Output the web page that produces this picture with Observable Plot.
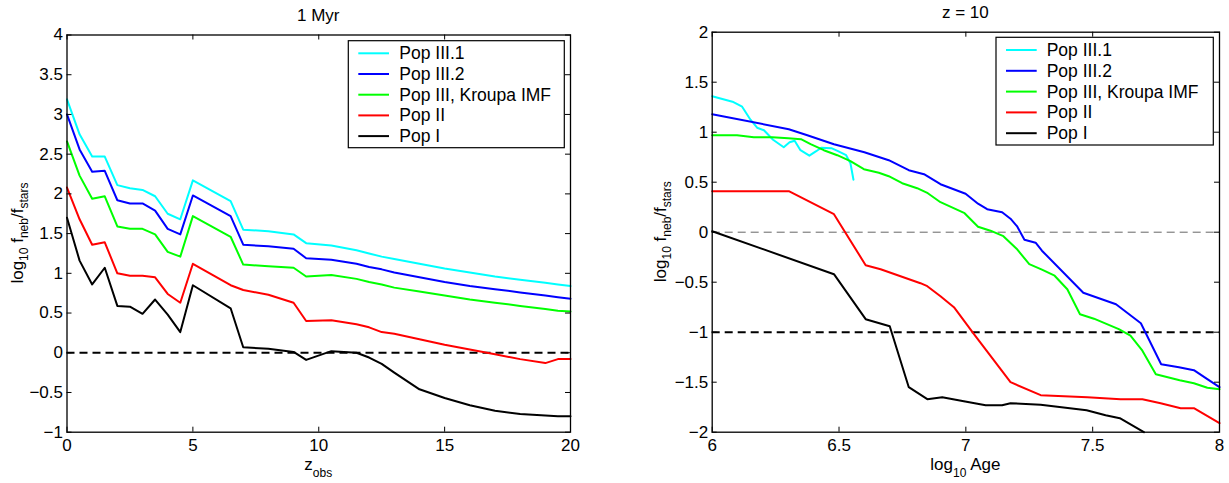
<!DOCTYPE html>
<html><head><meta charset="utf-8">
<script src="https://cdn.jsdelivr.net/npm/d3@7"></script>
<script src="https://cdn.jsdelivr.net/npm/@observablehq/plot@0.6"></script>
<style>
body{margin:0;background:#fff;}
#wrap{position:relative;width:1229px;height:483px;overflow:hidden;background:#fff;}
#wrap svg{position:absolute;top:0;}
</style></head><body><div id="wrap"></div>
<script>
const FONT = "Liberation Sans, Arial, Helvetica, sans-serif";
const seriesNames = ["Pop III.1", "Pop III.2", "Pop III, Kroupa IMF", "Pop II", "Pop I"];
const seriesColors = ["#00ffff", "#0000ff", "#00ff00", "#ff0000", "#000000"];

// ---- Left panel: 1 Myr, x = z_obs ----
const leftTitle = "1 Myr";
const leftXTicks = [0, 5, 10, 15, 20];
const leftYTicks = [-1, -0.5, 0, 0.5, 1, 1.5, 2, 2.5, 3, 3.5, 4];
const leftZ = [0,0.5,1,1.5,2,2.5,3,3.5,4,4.5,5,6.5,7,8,9,9.5,10.5,11.5,12,12.5,13,14,15,16,17,18,19,19.5,20];
const leftPop31 = [3.19,2.75,2.47,2.47,2.11,2.07,2.05,1.97,1.75,1.68,2.17,1.91,1.55,1.53,1.49,1.38,1.35,1.29,1.25,1.21,1.18,1.12,1.06,1.01,0.96,0.92,0.88,0.86,0.84];
const leftPop32 = [3.00,2.56,2.28,2.29,1.92,1.88,1.88,1.79,1.56,1.49,1.98,1.72,1.36,1.34,1.31,1.19,1.17,1.12,1.08,1.05,1.01,0.95,0.89,0.84,0.80,0.76,0.72,0.70,0.68];
const leftKroupa = [2.66,2.23,1.94,1.97,1.59,1.56,1.56,1.49,1.27,1.21,1.72,1.46,1.11,1.09,1.07,0.96,0.98,0.93,0.89,0.86,0.82,0.77,0.72,0.67,0.63,0.59,0.55,0.53,0.52];
const leftPop2 = [2.08,1.68,1.36,1.39,1.00,0.97,0.97,0.95,0.74,0.63,1.12,0.85,0.79,0.73,0.63,0.40,0.41,0.36,0.32,0.26,0.24,0.17,0.10,0.04,-0.02,-0.08,-0.13,-0.08,-0.08];
const leftPop1 = [1.70,1.16,0.86,1.07,0.59,0.58,0.49,0.67,0.48,0.26,0.85,0.56,0.07,0.05,0.01,-0.09,0.02,0.00,-0.06,-0.14,-0.25,-0.46,-0.57,-0.66,-0.73,-0.77,-0.79,-0.80,-0.80];
const leftRefLines = [0];

// ---- Right panel: z = 10, x = log10 Age ----
const rightTitle = "z = 10";
const rightXTicks = [6, 6.5, 7, 7.5, 8];
const rightYTicks = [-2, -1.5, -1, -0.5, 0, 0.5, 1, 1.5, 2];
const rightAgePop31 = [6.0,6.08,6.118,6.151,6.177,6.204,6.24,6.282,6.305,6.325,6.348,6.383,6.41,6.43,6.47,6.496,6.516,6.528,6.545,6.557];
const rightPop31 = [1.36,1.305,1.255,1.125,1.045,1.02,0.925,0.85,0.90,0.915,0.82,0.765,0.81,0.845,0.84,0.81,0.785,0.77,0.69,0.525];
const rightAgePop32 = [6.0,6.302,6.375,6.48,6.6,6.696,6.775,6.835,6.90,6.999,7.048,7.084,7.143,7.176,7.203,7.231,7.275,7.30,7.463,7.592,7.69,7.77,7.84,7.899,7.952,8.0];
const rightPop32 = [1.18,1.03,0.97,0.88,0.80,0.72,0.62,0.58,0.48,0.385,0.285,0.23,0.20,0.135,0.055,-0.075,-0.105,-0.185,-0.605,-0.72,-0.91,-1.32,-1.35,-1.38,-1.47,-1.55];
const rightAgeKroupa = [6.0,6.098,6.164,6.237,6.30,6.35,6.388,6.44,6.493,6.545,6.598,6.657,6.696,6.749,6.808,6.85,6.90,6.995,7.048,7.097,7.148,7.2,7.25,7.30,7.35,7.40,7.45,7.505,7.603,7.649,7.696,7.749,7.843,7.899,7.952,8.0];
const rightKroupa = [0.97,0.97,0.95,0.95,0.94,0.93,0.88,0.82,0.77,0.71,0.63,0.595,0.56,0.49,0.44,0.39,0.30,0.19,0.055,0.015,-0.04,-0.165,-0.32,-0.375,-0.435,-0.57,-0.82,-0.865,-0.97,-1.035,-1.185,-1.42,-1.48,-1.51,-1.555,-1.57];
const rightAgePop2 = [6.0,6.302,6.48,6.605,6.664,6.821,6.848,6.90,6.953,7.032,7.176,7.295,7.479,7.61,7.696,7.768,7.847,7.899,8.0];
const rightPop2 = [0.41,0.41,0.18,-0.33,-0.37,-0.51,-0.54,-0.64,-0.75,-1.02,-1.50,-1.63,-1.65,-1.67,-1.67,-1.71,-1.76,-1.76,-1.91];
const rightAgePop1 = [6.0,6.48,6.605,6.70,6.775,6.848,6.907,6.992,7.078,7.143,7.176,7.295,7.476,7.551,7.607,7.702];
const rightPop1 = [0.01,-0.42,-0.87,-0.94,-1.55,-1.67,-1.65,-1.69,-1.73,-1.73,-1.71,-1.725,-1.78,-1.83,-1.86,-2.0];
const rightRefThin = [0];
const rightRefThick = [-1];

const fmt = d => (d < 0 ? "\u2212" : "") + Math.abs(d);
const toRows = (xs, ys) => xs.map((x, i) => ({x, y: ys[i]}));

function panel(cfg) {
  const H = 483;
  const innerW = cfg.width - cfg.ml - cfg.mr;
  const innerH = H - cfg.mt - cfg.mb;
  const marks = [];
  cfg.refs.forEach(r => marks.push(Plot.ruleY(r.values, {y: d => d, stroke: r.color, strokeWidth: r.width, strokeDasharray: "8,5"})));
  cfg.series.forEach((s, i) => marks.push(Plot.line(toRows(s.x, s.y), {x: "x", y: "y", stroke: seriesColors[i], strokeWidth: 2})));
  marks.push(
    Plot.tickX(cfg.xTicks, {x: d => d, insetTop: innerH - 5, stroke: "black"}),
    Plot.tickX(cfg.xTicks, {x: d => d, insetBottom: innerH - 5, stroke: "black"}),
    Plot.tickY(cfg.yTicks, {y: d => d, insetRight: innerW - 5, stroke: "black"}),
    Plot.tickY(cfg.yTicks, {y: d => d, insetLeft: innerW - 5, stroke: "black"}),
    Plot.axisX(cfg.xTicks, {anchor: "bottom", tickSize: 0, tickPadding: 7, tickFormat: fmt, label: null, fontSize: 17}),
    Plot.axisY(cfg.yTicks, {anchor: "left", tickSize: 0, tickPadding: 4, tickFormat: fmt, label: null, fontSize: 17}),
    Plot.frame({stroke: "black", strokeWidth: 1.3})
  );
  const svg = Plot.plot({
    width: cfg.width, height: H,
    marginLeft: cfg.ml, marginRight: cfg.mr, marginTop: cfg.mt, marginBottom: cfg.mb,
    x: {domain: cfg.xDomain, label: null},
    y: {domain: cfg.yDomain, label: null},
    style: {fontFamily: FONT, fontSize: "17px", color: "black", background: "transparent", overflow: "visible"},
    marks
  });
  svg.style.left = cfg.left + "px";
  const g = d3.select(svg).append("g").attr("font-family", FONT).attr("fill", "black");
  const cx = cfg.ml + innerW / 2;
  // title
  g.append("text").attr("x", cx).attr("y", cfg.titleY).attr("text-anchor", "middle").attr("font-size", 17).text(cfg.title);
  // x label
  const xl = g.append("text").attr("x", cx).attr("y", 470).attr("text-anchor", "middle").attr("font-size", 17);
  cfg.xLabel.forEach(p => xl.append("tspan").attr("font-size", p.sub ? 12 : 17).attr("dy", p.dy || 0).text(p.t));
  // y label
  const cy = cfg.mt + innerH / 2;
  const yl = g.append("text").attr("transform", `translate(${cfg.yLabelX},${cy}) rotate(-90)`).attr("text-anchor", "middle").attr("font-size", 17);
  [{t: "log"}, {t: "10", sub: 1, dy: 5}, {t: " f", dy: -5}, {t: "neb", sub: 1, dy: 5}, {t: "/f", dy: -5}, {t: "stars", sub: 1, dy: 5}]
    .forEach(p => yl.append("tspan").attr("font-size", p.sub ? 12 : 17).attr("dy", p.dy || 0).text(p.t));
  // legend
  const L = cfg.legend;
  const lg = g.append("g");
  lg.append("rect").attr("x", L.x).attr("y", L.y).attr("width", L.w).attr("height", L.h).attr("fill", "white").attr("stroke", "black").attr("stroke-width", 1.2);
  seriesNames.forEach((name, i) => {
    const ry = L.row0 + i * L.dy;
    lg.append("line").attr("x1", L.lx1).attr("x2", L.lx2).attr("y1", ry).attr("y2", ry).attr("stroke", seriesColors[i]).attr("stroke-width", 2);
    lg.append("text").attr("x", L.tx).attr("y", ry + 6).attr("text-anchor", "start").attr("font-size", 17.5).text(name);
  });
  return svg;
}

const wrap = document.getElementById("wrap");
wrap.appendChild(panel({
  left: 0, width: 614, ml: 66.5, mr: 44, mt: 34.5, mb: 51.3,
  xDomain: [0, 20], yDomain: [-1, 4], xTicks: leftXTicks, yTicks: leftYTicks,
  series: [
    {x: leftZ, y: leftPop31}, {x: leftZ, y: leftPop32}, {x: leftZ, y: leftKroupa},
    {x: leftZ, y: leftPop2}, {x: leftZ, y: leftPop1}
  ],
  refs: [{values: leftRefLines, color: "black", width: 2}],
  title: leftTitle, titleY: 21,
  xLabel: [{t: "z"}, {t: "obs", sub: 1, dy: 7}],
  yLabelX: 23,
  legend: {x: 348.3, y: 40.7, w: 216, h: 107, lx1: 358.3, lx2: 389, tx: 399.3, row0: 53.3, dy: 20.7}
}));
wrap.appendChild(panel({
  left: 614, width: 615, ml: 97.7, mr: 10, mt: 31.7, mb: 51.3,
  xDomain: [6, 8], yDomain: [-2, 2], xTicks: rightXTicks, yTicks: rightYTicks,
  series: [
    {x: rightAgePop31, y: rightPop31}, {x: rightAgePop32, y: rightPop32}, {x: rightAgeKroupa, y: rightKroupa},
    {x: rightAgePop2, y: rightPop2}, {x: rightAgePop1, y: rightPop1}
  ],
  refs: [{values: rightRefThin, color: "#666", width: 1}, {values: rightRefThick, color: "black", width: 2}],
  title: rightTitle, titleY: 18,
  xLabel: [{t: "log"}, {t: "10", sub: 1, dy: 7}, {t: " Age", dy: -7}],
  yLabelX: 52,
  legend: {x: 382, y: 37.3, w: 217.3, h: 107.7, lx1: 392, lx2: 422.7, tx: 432.7, row0: 50, dy: 20.8}
}));
</script></body></html>
